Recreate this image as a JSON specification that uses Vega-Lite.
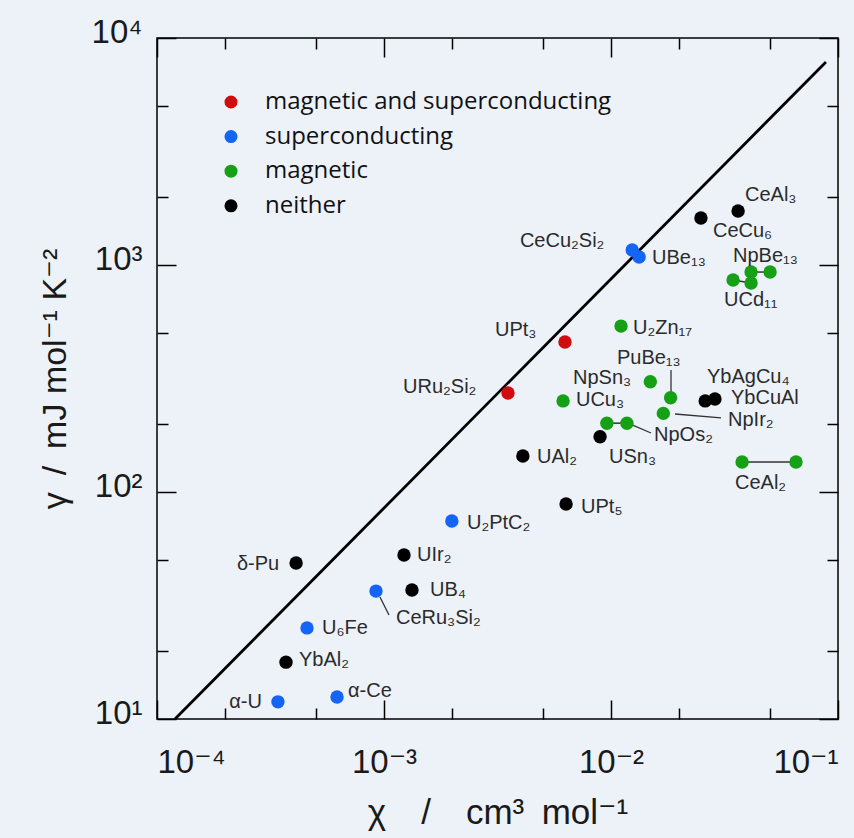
{
  "$schema": "https://vega.github.io/schema/vega-lite/v6.json",
  "width": 681,
  "height": 681,
  "autosize": "none",
  "padding": {"left": 157, "top": 38, "right": 16, "bottom": 119},
  "background": "#edf2f9",
  "config": {
    "view": {"stroke": "#000000", "strokeWidth": 1.5},
    "font": "Liberation Sans, DejaVu Sans"
  },
  "datasets": {
    "refline": [
      {"chi": 0.000120, "gamma": 10},
      {"chi": 0.0885, "gamma": 7840}
    ],
    "points": [
      {"name": "URu2Si2", "cat": "magnetic and superconducting", "chi": 0.003518, "gamma": 273},
      {"name": "UPt3", "cat": "magnetic and superconducting", "chi": 0.00627, "gamma": 458},
      {"name": "α-U", "cat": "superconducting", "chi": 0.000341, "gamma": 11.9},
      {"name": "α-Ce", "cat": "superconducting", "chi": 0.000621, "gamma": 12.5},
      {"name": "U6Fe", "cat": "superconducting", "chi": 0.000458, "gamma": 25.2},
      {"name": "CeRu3Si2", "cat": "superconducting", "chi": 0.000922, "gamma": 36.6},
      {"name": "U2PtC2", "cat": "superconducting", "chi": 0.00199, "gamma": 74.5},
      {"name": "CeCu2Si2", "cat": "superconducting", "chi": 0.0124, "gamma": 1164},
      {"name": "UBe13", "cat": "superconducting", "chi": 0.0133, "gamma": 1084},
      {"name": "UCu3", "cat": "magnetic", "chi": 0.00615, "gamma": 252},
      {"name": "NpOs2 a", "cat": "magnetic", "chi": 0.00959, "gamma": 201},
      {"name": "NpOs2 b", "cat": "magnetic", "chi": 0.01175, "gamma": 201},
      {"name": "U2Zn17", "cat": "magnetic", "chi": 0.01107, "gamma": 538},
      {"name": "NpSn3", "cat": "magnetic", "chi": 0.0149, "gamma": 306},
      {"name": "PuBe13", "cat": "magnetic", "chi": 0.0183, "gamma": 260},
      {"name": "NpIr2", "cat": "magnetic", "chi": 0.0170, "gamma": 222},
      {"name": "CeAl2 a", "cat": "magnetic", "chi": 0.0378, "gamma": 135.6},
      {"name": "CeAl2 b", "cat": "magnetic", "chi": 0.0653, "gamma": 135.6},
      {"name": "NpBe13 a", "cat": "magnetic", "chi": 0.0414, "gamma": 931},
      {"name": "NpBe13 b", "cat": "magnetic", "chi": 0.0502, "gamma": 931},
      {"name": "UCd11 a", "cat": "magnetic", "chi": 0.0345, "gamma": 859},
      {"name": "UCd11 b", "cat": "magnetic", "chi": 0.0414, "gamma": 833},
      {"name": "YbAl2", "cat": "neither", "chi": 0.000370, "gamma": 17.8},
      {"name": "δ-Pu", "cat": "neither", "chi": 0.000410, "gamma": 48.7},
      {"name": "UB4", "cat": "neither", "chi": 0.001328, "gamma": 37.0},
      {"name": "UIr2", "cat": "neither", "chi": 0.001225, "gamma": 52.8},
      {"name": "UPt5", "cat": "neither", "chi": 0.00634, "gamma": 88.5},
      {"name": "UAl2", "cat": "neither", "chi": 0.00409, "gamma": 144},
      {"name": "USn3", "cat": "neither", "chi": 0.00895, "gamma": 175},
      {"name": "YbAgCu4", "cat": "neither", "chi": 0.0260, "gamma": 252},
      {"name": "YbCuAl", "cat": "neither", "chi": 0.0287, "gamma": 257},
      {"name": "CeCu6", "cat": "neither", "chi": 0.0249, "gamma": 1610},
      {"name": "CeAl3", "cat": "neither", "chi": 0.0363, "gamma": 1730}
    ],
    "labels": [
      {"label": "α-U", "lx": 0.000208, "ly": 11.9},
      {"label": "α-Ce", "lx": 0.000694, "ly": 13.3},
      {"label": "YbAl₂", "lx": 0.000422, "ly": 18.2},
      {"label": "U₆Fe", "lx": 0.000533, "ly": 25.2},
      {"label": "δ-Pu", "lx": 0.000225, "ly": 48.2},
      {"label": "CeRu₃Si₂", "lx": 0.001129, "ly": 27.9},
      {"label": "UB₄", "lx": 0.001594, "ly": 37.0},
      {"label": "UIr₂", "lx": 0.001398, "ly": 52.8},
      {"label": "U₂PtC₂", "lx": 0.002321, "ly": 73.0},
      {"label": "UPt₅", "lx": 0.00738, "ly": 85.9},
      {"label": "UAl₂", "lx": 0.00472, "ly": 142.7},
      {"label": "USn₃", "lx": 0.0098, "ly": 142.7},
      {"label": "NpOs₂", "lx": 0.01547, "ly": 178.3},
      {"label": "UCu₃", "lx": 0.00701, "ly": 254.3},
      {"label": "NpSn₃", "lx": 0.0068, "ly": 317.8},
      {"label": "PuBe₁₃", "lx": 0.01062, "ly": 389.3},
      {"label": "YbAgCu₄", "lx": 0.02648, "ly": 321.1},
      {"label": "YbCuAl", "lx": 0.03378, "ly": 258.5},
      {"label": "NpIr₂", "lx": 0.03277, "ly": 207.6},
      {"label": "CeAl₂", "lx": 0.03518, "ly": 109.5},
      {"label": "U₂Zn₁₇", "lx": 0.0125, "ly": 527.8},
      {"label": "UPt₃", "lx": 0.003083, "ly": 517.2},
      {"label": "URu₂Si₂", "lx": 0.001213, "ly": 290},
      {"label": "CeCu₂Si₂", "lx": 0.00397, "ly": 1276},
      {"label": "UBe₁₃", "lx": 0.01516, "ly": 1073},
      {"label": "CeCu₆", "lx": 0.02813, "ly": 1411},
      {"label": "CeAl₃", "lx": 0.03893, "ly": 2034},
      {"label": "NpBe₁₃", "lx": 0.03447, "ly": 1095},
      {"label": "UCd₁₁", "lx": 0.03147, "ly": 701}
    ],
    "links": [
      {"x1": 0.00959, "y1": 201, "x2": 0.01175, "y2": 201},
      {"x1": 0.0378, "y1": 135.6, "x2": 0.0653, "y2": 135.6},
      {"x1": 0.0414, "y1": 931, "x2": 0.0502, "y2": 931},
      {"x1": 0.0345, "y1": 859, "x2": 0.0414, "y2": 833}
    ],
    "leaders": [
      {"x1": 0.00096, "y1": 34.5, "x2": 0.001052, "y2": 28.7},
      {"x1": 0.01238, "y1": 197.4, "x2": 0.01501, "y2": 181.9},
      {"x1": 0.01838, "y1": 344.6, "x2": 0.01838, "y2": 275.7},
      {"x1": 0.01914, "y1": 220.6, "x2": 0.03052, "y2": 212.0}
    ]
  },
  "resolve": {"axis": {"x": "independent", "y": "independent"}},
  "layer": [
    {
      "data": {"name": "refline"},
      "mark": {"type": "line", "color": "#000000", "strokeWidth": 2.8},
      "encoding": {
        "x": {
          "field": "chi", "type": "quantitative",
          "scale": {"type": "log", "domain": [0.0001, 0.1], "nice": false},
          "axis": {
            "orient": "bottom", "values": [0.0001, 0.001, 0.01, 0.1],
            "ticks": false, "domain": false, "grid": false,
            "labelExpr": "datum.value == 0.0001 ? '10⁻⁴' : datum.value == 0.001 ? '10⁻³' : datum.value == 0.01 ? '10⁻²' : '10⁻¹'",
            "labelFontSize": 33, "labelColor": "#1a1a1a", "labelPadding": 27,
            "labelFlush": true, "labelBaseline": "top",
            "title": "χ\u2003/\u2003cm³\u2002mol⁻¹", "titleFontSize": 35, "titleFontWeight": "normal",
            "titleColor": "#1a1a1a", "titleY": 104, "titleBaseline": "alphabetic"
          }
        },
        "y": {
          "field": "gamma", "type": "quantitative",
          "scale": {"type": "log", "domain": [10, 10000], "nice": false},
          "axis": {
            "orient": "left", "values": [10, 100, 1000, 10000],
            "ticks": false, "domain": false, "grid": false,
            "labelExpr": "datum.value == 10 ? '10¹' : datum.value == 100 ? '10²' : datum.value == 1000 ? '10³' : '10⁴'",
            "labelFontSize": 33, "labelColor": "#1a1a1a", "labelPadding": 15, "labelOffset": -6,
            "labelFlush": false,
            "title": "γ\u2002/\u2002mJ mol⁻¹ K⁻²", "titleFontSize": 34, "titleFontWeight": "normal",
            "titleColor": "#1a1a1a", "titleX": -92, "titleBaseline": "alphabetic"
          }
        }
      }
    },
    {
      "data": {"name": "links"},
      "mark": {"type": "rule", "color": "#333333", "strokeWidth": 1.5},
      "encoding": {
        "x": {
          "field": "x1", "type": "quantitative",
          "scale": {"type": "log", "domain": [0.0001, 0.1], "nice": false},
          "axis": {
            "orient": "bottom", "values": [0.0001, 0.0002, 0.0005, 0.001, 0.002, 0.005, 0.01, 0.02, 0.05, 0.1],
            "labels": false, "domain": false, "grid": false, "title": null,
            "tickColor": "#000000", "tickWidth": 1.5,
            "tickSize": {"condition": {"test": "indexof([0.0001, 0.001, 0.01, 0.1], datum.value) >= 0", "value": -19}, "value": -11}
          }
        },
        "x2": {"field": "x2"},
        "y": {
          "field": "y1", "type": "quantitative",
          "scale": {"type": "log", "domain": [10, 10000], "nice": false},
          "axis": {
            "orient": "left", "values": [10, 20, 50, 100, 200, 500, 1000, 2000, 5000, 10000],
            "labels": false, "domain": false, "grid": false, "title": null,
            "tickColor": "#000000", "tickWidth": 1.5,
            "tickSize": {"condition": {"test": "indexof([10, 100, 1000, 10000], datum.value) >= 0", "value": -19}, "value": -11}
          }
        },
        "y2": {"field": "y2"}
      }
    },
    {
      "data": {"name": "leaders"},
      "mark": {"type": "rule", "color": "#333333", "strokeWidth": 1.3},
      "encoding": {
        "x": {
          "field": "x1", "type": "quantitative",
          "scale": {"type": "log", "domain": [0.0001, 0.1], "nice": false},
          "axis": {
            "orient": "top", "values": [0.0001, 0.0002, 0.0005, 0.001, 0.002, 0.005, 0.01, 0.02, 0.05, 0.1],
            "labels": false, "domain": false, "grid": false, "title": null,
            "tickColor": "#000000", "tickWidth": 1.5,
            "tickSize": {"condition": {"test": "indexof([0.0001, 0.001, 0.01, 0.1], datum.value) >= 0", "value": -19}, "value": -11}
          }
        },
        "x2": {"field": "x2"},
        "y": {
          "field": "y1", "type": "quantitative",
          "scale": {"type": "log", "domain": [10, 10000], "nice": false},
          "axis": {
            "orient": "right", "values": [10, 20, 50, 100, 200, 500, 1000, 2000, 5000, 10000],
            "labels": false, "domain": false, "grid": false, "title": null,
            "tickColor": "#000000", "tickWidth": 1.5,
            "tickSize": {"condition": {"test": "indexof([10, 100, 1000, 10000], datum.value) >= 0", "value": -19}, "value": -11}
          }
        },
        "y2": {"field": "y2"}
      }
    },
    {
      "data": {"name": "points"},
      "mark": {"type": "circle", "size": 180, "opacity": 1},
      "encoding": {
        "x": {"field": "chi", "type": "quantitative", "scale": {"type": "log", "domain": [0.0001, 0.1], "nice": false}, "axis": null},
        "y": {"field": "gamma", "type": "quantitative", "scale": {"type": "log", "domain": [10, 10000], "nice": false}, "axis": null},
        "color": {
          "field": "cat", "type": "nominal",
          "scale": {
            "domain": ["magnetic and superconducting", "superconducting", "magnetic", "neither"],
            "range": ["#d00d0d", "#1565f5", "#16a016", "#000000"]
          },
          "legend": {
            "orient": "none", "legendX": 62, "legendY": 52, "title": null,
            "symbolType": "circle", "symbolSize": 170, "symbolStrokeWidth": 0, "symbolOpacity": 1,
            "labelFont": "Open Sans", "labelFontSize": 24, "labelColor": "#111111",
            "labelOffset": 22, "rowPadding": 10.6, "padding": 0, "labelLimit": 500
          }
        }
      }
    },
    {
      "data": {"name": "labels"},
      "mark": {"type": "text", "align": "left", "baseline": "middle", "fontSize": 20, "color": "#2b2b2b", "font": "Liberation Sans, DejaVu Sans"},
      "encoding": {
        "x": {"field": "lx", "type": "quantitative", "scale": {"type": "log", "domain": [0.0001, 0.1], "nice": false}, "axis": null},
        "y": {"field": "ly", "type": "quantitative", "scale": {"type": "log", "domain": [10, 10000], "nice": false}, "axis": null},
        "text": {"field": "label"}
      }
    }
  ]
}
